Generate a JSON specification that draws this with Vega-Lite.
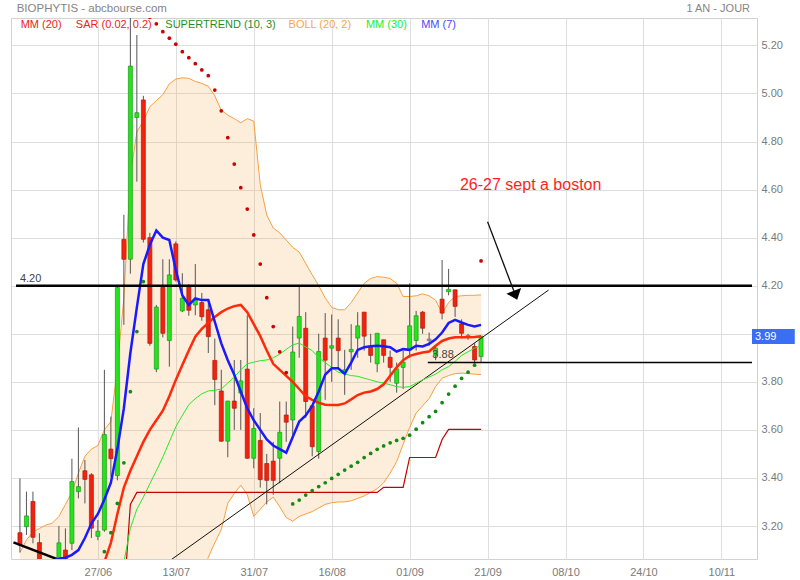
{
  "$schema": "https://vega.github.io/schema/vega-lite/v6.json",
  "width": 746,
  "height": 541,
  "autosize": {"type": "none"},
  "padding": {"left": 11, "top": 18, "right": 43, "bottom": 21},
  "background": "white",
  "config": {
    "view": {"stroke": "#d2d2d2", "strokeWidth": 1},
    "font": "Liberation Sans",
    "axis": {"grid": true, "gridColor": "#dedede", "gridWidth": 1, "ticks": false, "domain": false, "labelColor": "#7a7a7a", "labelFontSize": 11, "labelFont": "Liberation Sans"}
  },
  "datasets": {
    "d": [
      {"i": -12, "o": 3.172, "h": 3.398, "l": 3.09, "c": 3.121, "dir": "down", "mm7": null, "mm20": null, "mm30": null, "bbu": 3.09, "bbl": 2.5, "sar": null, "sc": null, "st": null},
      {"i": -11, "o": 3.197, "h": 3.343, "l": 3.163, "c": 3.242, "dir": "up", "mm7": null, "mm20": null, "mm30": null, "bbu": 3.142, "bbl": 2.5, "sar": null, "sc": null, "st": null},
      {"i": -10, "o": 3.302, "h": 3.343, "l": 3.128, "c": 3.153, "dir": "down", "mm7": null, "mm20": null, "mm30": null, "bbu": 3.175, "bbl": 2.5, "sar": null, "sc": null, "st": null},
      {"i": -9, "o": 3.131, "h": 3.17, "l": 3.03, "c": 3.058, "dir": "down", "mm7": null, "mm20": null, "mm30": null, "bbu": 3.19, "bbl": 2.5, "sar": null, "sc": null, "st": null},
      {"i": -8, "o": 3.04, "h": 3.05, "l": 2.95, "c": 2.99, "dir": "down", "mm7": null, "mm20": null, "mm30": null, "bbu": 3.204, "bbl": 2.5, "sar": null, "sc": null, "st": null},
      {"i": -7, "o": 3.0, "h": 3.05, "l": 2.95, "c": 3.03, "dir": "up", "mm7": 3.055, "mm20": null, "mm30": null, "bbu": 3.212, "bbl": 2.5, "sar": null, "sc": null, "st": null},
      {"i": -6, "o": 3.06, "h": 3.2, "l": 3.05, "c": 3.13, "dir": "up", "mm7": 3.064, "mm20": null, "mm30": null, "bbu": 3.24, "bbl": 2.5, "sar": null, "sc": null, "st": null},
      {"i": -5, "o": 3.1, "h": 3.19, "l": 3.04, "c": 3.06, "dir": "down", "mm7": 3.068, "mm20": null, "mm30": null, "bbu": 3.29, "bbl": 2.5, "sar": null, "sc": null, "st": null},
      {"i": -4, "o": 3.128, "h": 3.48, "l": 3.1, "c": 3.385, "dir": "up", "mm7": 3.08, "mm20": null, "mm30": null, "bbu": 3.34, "bbl": 2.5, "sar": null, "sc": null, "st": null},
      {"i": -3, "o": 3.343, "h": 3.61, "l": 3.315, "c": 3.364, "dir": "up", "mm7": 3.1, "mm20": null, "mm30": null, "bbu": 3.42, "bbl": 2.5, "sar": null, "sc": null, "st": null},
      {"i": -2, "o": 3.43, "h": 3.475, "l": 3.294, "c": 3.394, "dir": "down", "mm7": 3.15, "mm20": null, "mm30": null, "bbu": 3.49, "bbl": 2.5, "sar": null, "sc": null, "st": null},
      {"i": -1, "o": 3.413, "h": 3.42, "l": 3.15, "c": 3.191, "dir": "down", "mm7": 3.21, "mm20": null, "mm30": null, "bbu": 3.52, "bbl": 2.5, "sar": null, "sc": null, "st": null},
      {"i": 0, "o": 3.157, "h": 3.225, "l": 3.141, "c": 3.178, "dir": "up", "mm7": 3.25, "mm20": 2.93, "mm30": null, "bbu": 3.535, "bbl": 2.5, "sar": null, "sc": null, "st": null},
      {"i": 1, "o": 3.183, "h": 3.85, "l": 3.176, "c": 3.581, "dir": "up", "mm7": 3.31, "mm20": 3.05, "mm30": null, "bbu": 3.6, "bbl": 2.5, "sar": 3.093, "sc": "g", "st": null},
      {"i": 2, "o": 3.52, "h": 3.655, "l": 3.405, "c": 3.48, "dir": "down", "mm7": 3.38, "mm20": 3.13, "mm30": null, "bbu": 3.635, "bbl": 2.5, "sar": 3.172, "sc": "g", "st": null},
      {"i": 3, "o": 3.41, "h": 4.2, "l": 3.39, "c": 4.193, "dir": "up", "mm7": 3.52, "mm20": 3.25, "mm30": 2.9, "bbu": 3.86, "bbl": 2.5, "sar": 3.294, "sc": "g", "st": null},
      {"i": 4, "o": 4.393, "h": 4.495, "l": 4.037, "c": 4.31, "dir": "down", "mm7": 3.69, "mm20": 3.36, "mm30": 3.05, "bbu": 4.15, "bbl": 2.5, "sar": 3.463, "sc": "g", "st": 2.9},
      {"i": 5, "o": 4.31, "h": 5.33, "l": 4.25, "c": 5.114, "dir": "up", "mm7": 3.92, "mm20": 3.43, "mm30": 3.19, "bbu": 4.66, "bbl": 2.5, "sar": 3.759, "sc": "g", "st": 3.29},
      {"i": 6, "o": 4.9, "h": 5.243, "l": 4.633, "c": 4.92, "dir": "up", "mm7": 4.11, "mm20": 3.49, "mm30": 3.27, "bbu": 4.84, "bbl": 2.5, "sar": 4.009, "sc": "g", "st": 3.34},
      {"i": 7, "o": 4.973, "h": 4.99, "l": 4.38, "c": 4.393, "dir": "down", "mm7": 4.29, "mm20": 3.55, "mm30": 3.32, "bbu": 4.885, "bbl": 2.5, "sar": 4.217, "sc": "g", "st": 3.34},
      {"i": 8, "o": 4.4, "h": 4.42, "l": 3.95, "c": 3.96, "dir": "down", "mm7": 4.37, "mm20": 3.6, "mm30": 3.376, "bbu": 4.945, "bbl": 2.5, "sar": 5.317, "sc": "r", "st": 3.34},
      {"i": 9, "o": 3.853, "h": 4.12, "l": 3.84, "c": 4.111, "dir": "up", "mm7": 4.43, "mm20": 3.64, "mm30": 3.43, "bbu": 4.97, "bbl": 2.5, "sar": 5.29, "sc": "r", "st": 3.34},
      {"i": 10, "o": 4.193, "h": 4.31, "l": 3.985, "c": 4.002, "dir": "down", "mm7": 4.4, "mm20": 3.68, "mm30": 3.487, "bbu": 4.995, "bbl": 2.5, "sar": 5.257, "sc": "r", "st": 3.34},
      {"i": 11, "o": 3.972, "h": 4.31, "l": 3.863, "c": 4.245, "dir": "up", "mm7": 4.39, "mm20": 3.74, "mm30": 3.55, "bbu": 5.04, "bbl": 2.5, "sar": 5.23, "sc": "r", "st": 3.34},
      {"i": 12, "o": 4.374, "h": 4.384, "l": 4.217, "c": 4.224, "dir": "down", "mm7": 4.265, "mm20": 3.808, "mm30": 3.613, "bbu": 5.06, "bbl": 2.5, "sar": 5.205, "sc": "r", "st": 3.34},
      {"i": 13, "o": 4.095, "h": 4.252, "l": 4.09, "c": 4.148, "dir": "up", "mm7": 4.16, "mm20": 3.87, "mm30": 3.66, "bbu": 5.065, "bbl": 2.5, "sar": 5.174, "sc": "r", "st": 3.34},
      {"i": 14, "o": 4.196, "h": 4.207, "l": 4.075, "c": 4.098, "dir": "down", "mm7": 4.12, "mm20": 3.93, "mm30": 3.705, "bbu": 5.063, "bbl": 2.5, "sar": 5.149, "sc": "r", "st": 3.34},
      {"i": 15, "o": 4.12, "h": 4.29, "l": 4.077, "c": 4.14, "dir": "up", "mm7": 4.147, "mm20": 3.988, "mm30": 3.73, "bbu": 5.05, "bbl": 2.9, "sar": 5.124, "sc": "r", "st": 3.34},
      {"i": 16, "o": 4.13, "h": 4.17, "l": 4.054, "c": 4.071, "dir": "down", "mm7": 4.14, "mm20": 4.02, "mm30": 3.75, "bbu": 5.042, "bbl": 2.98, "sar": 5.098, "sc": "r", "st": 3.34},
      {"i": 17, "o": 4.1, "h": 4.14, "l": 3.92, "c": 3.988, "dir": "down", "mm7": 4.14, "mm20": 4.045, "mm30": 3.762, "bbu": 5.03, "bbl": 3.07, "sar": 5.074, "sc": "r", "st": 3.34},
      {"i": 18, "o": 3.889, "h": 3.98, "l": 3.703, "c": 3.81, "dir": "down", "mm7": 4.05, "mm20": 4.07, "mm30": 3.765, "bbu": 4.99, "bbl": 3.13, "sar": 5.014, "sc": "r", "st": 3.34},
      {"i": 19, "o": 3.762, "h": 3.85, "l": 3.55, "c": 3.553, "dir": "down", "mm7": 3.96, "mm20": 4.09, "mm30": 3.77, "bbu": 4.93, "bbl": 3.185, "sar": 4.928, "sc": "r", "st": 3.34},
      {"i": 20, "o": 3.553, "h": 3.72, "l": 3.486, "c": 3.72, "dir": "up", "mm7": 3.89, "mm20": 4.105, "mm30": 3.795, "bbu": 4.91, "bbl": 3.295, "sar": 4.816, "sc": "r", "st": 3.34},
      {"i": 21, "o": 3.72, "h": 3.891, "l": 3.6, "c": 3.69, "dir": "down", "mm7": 3.83, "mm20": 4.115, "mm30": 3.82, "bbu": 4.895, "bbl": 3.335, "sar": 4.706, "sc": "r", "st": 3.34},
      {"i": 22, "o": 3.753, "h": 3.891, "l": 3.6, "c": 3.804, "dir": "up", "mm7": 3.76, "mm20": 4.12, "mm30": 3.85, "bbu": 4.878, "bbl": 3.37, "sar": 4.608, "sc": "r", "st": 3.34},
      {"i": 23, "o": 3.853, "h": 4.077, "l": 3.48, "c": 3.482, "dir": "down", "mm7": 3.69, "mm20": 4.09, "mm30": 3.875, "bbu": 4.895, "bbl": 3.33, "sar": 4.519, "sc": "r", "st": 3.34},
      {"i": 24, "o": 3.482, "h": 3.69, "l": 3.44, "c": 3.606, "dir": "up", "mm7": 3.64, "mm20": 4.04, "mm30": 3.882, "bbu": 4.885, "bbl": 3.24, "sar": 4.411, "sc": "r", "st": 3.34},
      {"i": 25, "o": 3.556, "h": 3.67, "l": 3.36, "c": 3.393, "dir": "down", "mm7": 3.6, "mm20": 3.99, "mm30": 3.888, "bbu": 4.62, "bbl": 3.27, "sar": 4.29, "sc": "r", "st": 3.34},
      {"i": 26, "o": 3.46, "h": 3.5, "l": 3.29, "c": 3.39, "dir": "down", "mm7": 3.56, "mm20": 3.93, "mm30": 3.891, "bbu": 4.494, "bbl": 3.3, "sar": 4.15, "sc": "r", "st": 3.34},
      {"i": 27, "o": 3.47, "h": 3.55, "l": 3.33, "c": 3.39, "dir": "down", "mm7": 3.535, "mm20": 3.875, "mm30": 3.9, "bbu": 4.44, "bbl": 3.32, "sar": 4.03, "sc": "r", "st": 3.34},
      {"i": 28, "o": 3.482, "h": 3.718, "l": 3.378, "c": 3.59, "dir": "up", "mm7": 3.52, "mm20": 3.85, "mm30": 3.915, "bbu": 4.42, "bbl": 3.28, "sar": 3.925, "sc": "r", "st": 3.34},
      {"i": 29, "o": 3.662, "h": 3.718, "l": 3.55, "c": 3.632, "dir": "down", "mm7": 3.505, "mm20": 3.825, "mm30": 3.935, "bbu": 4.39, "bbl": 3.235, "sar": 3.838, "sc": "r", "st": 3.34},
      {"i": 30, "o": 3.641, "h": 4.03, "l": 3.58, "c": 3.924, "dir": "up", "mm7": 3.57, "mm20": 3.8, "mm30": 3.954, "bbu": 4.36, "bbl": 3.22, "sar": 3.292, "sc": "g", "st": 3.34},
      {"i": 31, "o": 3.982, "h": 4.196, "l": 3.9, "c": 4.072, "dir": "up", "mm7": 3.635, "mm20": 3.77, "mm30": 3.961, "bbu": 4.34, "bbl": 3.24, "sar": 3.308, "sc": "g", "st": 3.34},
      {"i": 32, "o": 4.023, "h": 4.09, "l": 3.65, "c": 3.718, "dir": "down", "mm7": 3.66, "mm20": 3.74, "mm30": 3.945, "bbu": 4.293, "bbl": 3.25, "sar": 3.329, "sc": "g", "st": 3.34},
      {"i": 33, "o": 3.7, "h": 3.7, "l": 3.49, "c": 3.53, "dir": "down", "mm7": 3.7, "mm20": 3.725, "mm30": 3.93, "bbu": 4.245, "bbl": 3.26, "sar": 3.347, "sc": "g", "st": 3.34},
      {"i": 34, "o": 3.51, "h": 4.0, "l": 3.48, "c": 3.926, "dir": "up", "mm7": 3.76, "mm20": 3.713, "mm30": 3.9, "bbu": 4.2, "bbl": 3.275, "sar": 3.364, "sc": "g", "st": 3.34},
      {"i": 35, "o": 3.982, "h": 4.086, "l": 3.725, "c": 3.89, "dir": "down", "mm7": 3.83, "mm20": 3.705, "mm30": 3.88, "bbu": 4.15, "bbl": 3.29, "sar": 3.38, "sc": "g", "st": 3.34},
      {"i": 36, "o": 3.94, "h": 4.08, "l": 3.8, "c": 3.95, "dir": "up", "mm7": 3.856, "mm20": 3.704, "mm30": 3.86, "bbu": 4.11, "bbl": 3.297, "sar": 3.398, "sc": "g", "st": 3.34},
      {"i": 37, "o": 3.982, "h": 4.06, "l": 3.85, "c": 3.93, "dir": "down", "mm7": 3.856, "mm20": 3.704, "mm30": 3.84, "bbu": 4.1, "bbl": 3.3, "sar": 3.415, "sc": "g", "st": 3.34},
      {"i": 38, "o": 3.84, "h": 3.933, "l": 3.746, "c": 3.85, "dir": "up", "mm7": 3.833, "mm20": 3.71, "mm30": 3.833, "bbu": 4.1, "bbl": 3.3, "sar": 3.433, "sc": "g", "st": 3.34},
      {"i": 39, "o": 3.925, "h": 4.04, "l": 3.85, "c": 3.935, "dir": "up", "mm7": 3.88, "mm20": 3.727, "mm30": 3.826, "bbu": 4.13, "bbl": 3.305, "sar": 3.449, "sc": "g", "st": 3.34},
      {"i": 40, "o": 3.982, "h": 4.09, "l": 3.9, "c": 4.033, "dir": "up", "mm7": 3.933, "mm20": 3.745, "mm30": 3.823, "bbu": 4.17, "bbl": 3.315, "sar": 3.465, "sc": "g", "st": 3.34},
      {"i": 41, "o": 4.09, "h": 4.09, "l": 3.93, "c": 3.99, "dir": "down", "mm7": 3.944, "mm20": 3.755, "mm30": 3.815, "bbu": 4.21, "bbl": 3.325, "sar": 3.485, "sc": "g", "st": 3.34},
      {"i": 42, "o": 3.947, "h": 4.0, "l": 3.88, "c": 3.91, "dir": "down", "mm7": 3.948, "mm20": 3.76, "mm30": 3.808, "bbu": 4.23, "bbl": 3.34, "sar": 3.502, "sc": "g", "st": 3.34},
      {"i": 43, "o": 3.875, "h": 4.002, "l": 3.84, "c": 4.002, "dir": "up", "mm7": 3.95, "mm20": 3.77, "mm30": 3.8, "bbu": 4.238, "bbl": 3.355, "sar": 3.519, "sc": "g", "st": 3.34},
      {"i": 44, "o": 3.975, "h": 3.975, "l": 3.88, "c": 3.91, "dir": "down", "mm7": 3.948, "mm20": 3.79, "mm30": 3.795, "bbu": 4.235, "bbl": 3.38, "sar": 3.533, "sc": "g", "st": 3.361},
      {"i": 45, "o": 3.902, "h": 3.93, "l": 3.8, "c": 3.86, "dir": "down", "mm7": 3.944, "mm20": 3.825, "mm30": 3.788, "bbu": 4.23, "bbl": 3.42, "sar": 3.546, "sc": "g", "st": 3.361},
      {"i": 46, "o": 3.794, "h": 3.88, "l": 3.755, "c": 3.854, "dir": "up", "mm7": 3.926, "mm20": 3.86, "mm30": 3.78, "bbu": 4.21, "bbl": 3.468, "sar": 3.556, "sc": "g", "st": 3.361},
      {"i": 47, "o": 3.86, "h": 3.93, "l": 3.77, "c": 3.882, "dir": "up", "mm7": 3.936, "mm20": 3.89, "mm30": 3.777, "bbu": 4.155, "bbl": 3.54, "sar": 3.565, "sc": "g", "st": 3.361},
      {"i": 48, "o": 3.933, "h": 4.21, "l": 3.9, "c": 4.033, "dir": "up", "mm7": 3.933, "mm20": 3.908, "mm30": 3.78, "bbu": 4.155, "bbl": 3.61, "sar": 3.578, "sc": "g", "st": 3.485},
      {"i": 49, "o": 3.972, "h": 4.095, "l": 3.93, "c": 4.075, "dir": "up", "mm7": 3.95, "mm20": 3.916, "mm30": 3.794, "bbu": 4.158, "bbl": 3.67, "sar": 3.603, "sc": "g", "st": 3.485},
      {"i": 50, "o": 4.09, "h": 4.095, "l": 4.0, "c": 4.023, "dir": "down", "mm7": 3.947, "mm20": 3.922, "mm30": 3.808, "bbu": 4.166, "bbl": 3.7, "sar": 3.63, "sc": "g", "st": 3.485},
      {"i": 51, "o": 3.978, "h": 4.005, "l": 3.95, "c": 3.972, "dir": "flat", "mm7": 3.958, "mm20": 3.926, "mm30": 3.82, "bbu": 4.158, "bbl": 3.73, "sar": 3.655, "sc": "g", "st": 3.485},
      {"i": 52, "o": 3.91, "h": 3.95, "l": 3.89, "c": 3.94, "dir": "up", "mm7": 3.977, "mm20": 3.95, "mm30": 3.832, "bbu": 4.14, "bbl": 3.78, "sar": 3.677, "sc": "g", "st": 3.485},
      {"i": 53, "o": 4.144, "h": 4.307, "l": 4.06, "c": 4.086, "dir": "down", "mm7": 4.005, "mm20": 3.97, "mm30": 3.85, "bbu": 4.085, "bbl": 3.815, "sar": 3.713, "sc": "g", "st": 3.56},
      {"i": 54, "o": 4.175, "h": 4.27, "l": 4.16, "c": 4.185, "dir": "up", "mm7": 4.045, "mm20": 3.98, "mm30": 3.863, "bbu": 4.13, "bbl": 3.826, "sar": 3.749, "sc": "g", "st": 3.602},
      {"i": 55, "o": 4.183, "h": 4.183, "l": 4.07, "c": 4.114, "dir": "down", "mm7": 4.058, "mm20": 3.985, "mm30": 3.885, "bbu": 4.155, "bbl": 3.834, "sar": 3.782, "sc": "g", "st": 3.602},
      {"i": 56, "o": 4.041, "h": 4.06, "l": 3.98, "c": 4.002, "dir": "down", "mm7": 4.047, "mm20": 3.985, "mm30": 3.91, "bbu": 4.158, "bbl": 3.836, "sar": 3.814, "sc": "g", "st": 3.602},
      {"i": 57, "o": 3.993, "h": 4.0, "l": 3.975, "c": 3.99, "dir": "flat", "mm7": 4.037, "mm20": 3.985, "mm30": 3.925, "bbu": 4.16, "bbl": 3.834, "sar": 3.84, "sc": "g", "st": 3.602},
      {"i": 58, "o": 3.947, "h": 3.96, "l": 3.87, "c": 3.891, "dir": "down", "mm7": 4.03, "mm20": 3.987, "mm30": 3.94, "bbu": 4.16, "bbl": 3.832, "sar": 3.869, "sc": "g", "st": 3.602},
      {"i": 59, "o": 3.905, "h": 3.99, "l": 3.88, "c": 3.99, "dir": "up", "mm7": 4.037, "mm20": 3.99, "mm30": 3.95, "bbu": 4.162, "bbl": 3.83, "sar": 4.303, "sc": "r", "st": 3.602}
    ]
  },
  "data": {"name": "d"},
  "layer": [
    {
      "mark": {"type": "area", "color": "#f7a54a", "opacity": 0.2, "clip": true},
      "encoding": {
        "x": {"field": "i", "type": "quantitative", "title": null, "scale": {"domain": [-12.608, 100.714], "nice": false, "zero": false},
              "axis": {"orient": "bottom", "values": [0, 12, 24, 36, 48, 60, 72, 84, 96], "labelExpr": "['27/06','13/07','31/07','16/08','01/09','21/09','08/10','24/10','10/11'][round(datum.value/12)]", "labelPadding": 7, "labelFlush": false}},
        "y": {"field": "bbl", "type": "quantitative", "title": null, "scale": {"domain": [3.0627, 5.314], "nice": false, "zero": false},
              "axis": {"orient": "right", "values": [3.2, 3.4, 3.6, 3.8, 4.0, 4.2, 4.4, 4.6, 4.8, 5.0, 5.2], "format": ".2f", "labelPadding": 4, "labelFlush": false}},
        "y2": {"field": "bbu"}
      }
    },
    {
      "mark": {"type": "line", "color": "#f7a040", "strokeWidth": 1, "clip": true},
      "encoding": {"x": {"field": "i", "type": "quantitative", "title": null}, "y": {"field": "bbu", "type": "quantitative", "title": null}}
    },
    {
      "mark": {"type": "line", "color": "#f7a040", "strokeWidth": 1, "clip": true},
      "encoding": {"x": {"field": "i", "type": "quantitative", "title": null}, "y": {"field": "bbl", "type": "quantitative", "title": null}}
    },
    {
      "transform": [{"filter": "datum.st != null"}],
      "mark": {"type": "line", "color": "#c40000", "strokeWidth": 1.2, "clip": true},
      "encoding": {"x": {"field": "i", "type": "quantitative", "title": null}, "y": {"field": "st", "type": "quantitative", "title": null}}
    },
    {
      "mark": {"type": "rule", "color": "#555555", "strokeWidth": 1, "clip": true},
      "encoding": {"x": {"field": "i", "type": "quantitative", "title": null}, "y": {"field": "l", "type": "quantitative", "title": null}, "y2": {"field": "h"}}
    },
    {
      "mark": {"type": "bar", "width": 4, "strokeWidth": 0.7, "clip": true},
      "encoding": {
        "x": {"field": "i", "type": "quantitative", "title": null},
        "y": {"field": "o", "type": "quantitative", "title": null},
        "y2": {"field": "c"},
        "fill": {"field": "dir", "type": "nominal", "scale": {"domain": ["up", "down", "flat"], "range": ["#26e41c", "#f2220f", "#9a9a9a"]}, "legend": null},
        "stroke": {"field": "dir", "type": "nominal", "scale": {"domain": ["up", "down", "flat"], "range": ["#149a14", "#b01808", "#777777"]}, "legend": null}
      }
    },
    {
      "data": {"values": [{"i": 10, "p": 3.035}, {"i": 69.4, "p": 4.182}]},
      "mark": {"type": "line", "color": "#111111", "strokeWidth": 1, "clip": true},
      "encoding": {"x": {"field": "i", "type": "quantitative", "title": null}, "y": {"field": "p", "type": "quantitative", "title": null}}
    },
    {
      "data": {"values": [{"i": -13, "p": 3.132}, {"i": -5, "p": 3.049}]},
      "mark": {"type": "line", "color": "#000000", "strokeWidth": 2.5, "clip": true},
      "encoding": {"x": {"field": "i", "type": "quantitative", "title": null}, "y": {"field": "p", "type": "quantitative", "title": null}}
    },
    {
      "transform": [{"filter": "datum.mm30 != null"}],
      "mark": {"type": "line", "color": "#2ae82a", "strokeWidth": 1, "clip": true},
      "encoding": {"x": {"field": "i", "type": "quantitative", "title": null}, "y": {"field": "mm30", "type": "quantitative", "title": null}}
    },
    {
      "transform": [{"filter": "datum.mm20 != null"}],
      "mark": {"type": "line", "color": "#ff2a0a", "strokeWidth": 2.5, "clip": true},
      "encoding": {"x": {"field": "i", "type": "quantitative", "title": null}, "y": {"field": "mm20", "type": "quantitative", "title": null}}
    },
    {
      "transform": [{"filter": "datum.mm7 != null"}],
      "mark": {"type": "line", "color": "#1a1aff", "strokeWidth": 2.5, "clip": true},
      "encoding": {"x": {"field": "i", "type": "quantitative", "title": null}, "y": {"field": "mm7", "type": "quantitative", "title": null}}
    },
    {
      "data": {"values": [{"p": 4.2, "a": -12.608, "b": 100.714}]},
      "mark": {"type": "rule", "color": "#000000", "strokeWidth": 2.5},
      "encoding": {"x": {"field": "a", "type": "quantitative", "title": null}, "x2": {"field": "b"}, "y": {"field": "p", "type": "quantitative", "title": null}}
    },
    {
      "data": {"values": [{"p": 3.88, "a": 50.8, "b": 100.714}]},
      "mark": {"type": "rule", "color": "#000000", "strokeWidth": 1.5},
      "encoding": {"x": {"field": "a", "type": "quantitative", "title": null}, "x2": {"field": "b"}, "y": {"field": "p", "type": "quantitative", "title": null}}
    },
    {
      "transform": [{"filter": "datum.sc == 'r'"}],
      "mark": {"type": "point", "filled": true, "size": 14, "opacity": 1, "color": "#cc0000", "clip": true},
      "encoding": {"x": {"field": "i", "type": "quantitative", "title": null}, "y": {"field": "sar", "type": "quantitative", "title": null}}
    },
    {
      "transform": [{"filter": "datum.sc == 'g'"}],
      "mark": {"type": "point", "filled": true, "size": 14, "opacity": 1, "color": "#138a13", "clip": true},
      "encoding": {"x": {"field": "i", "type": "quantitative", "title": null}, "y": {"field": "sar", "type": "quantitative", "title": null}}
    },
    {
      "data": {"values": [{"i": 60.0, "p": 4.466, "i2": 64.3, "p2": 4.16}]},
      "mark": {"type": "rule", "color": "#111111", "strokeWidth": 1.3},
      "encoding": {"x": {"field": "i", "type": "quantitative", "title": null}, "y": {"field": "p", "type": "quantitative", "title": null}, "x2": {"field": "i2"}, "y2": {"field": "p2"}}
    },
    {
      "data": {"values": [{"i": 64.3, "p": 4.16}]},
      "mark": {"type": "point", "shape": "M0,-0.55L0.9,0.55L-0.9,0.55Z", "filled": true, "color": "#000000", "opacity": 1, "size": 300, "angle": 159},
      "encoding": {"x": {"field": "i", "type": "quantitative", "title": null}, "y": {"field": "p", "type": "quantitative", "title": null}}
    },
    {
      "data": {"values": [{"i": -12.5, "p": 5.3515, "t": "BIOPHYTIS - abcbourse.com"}]},
      "mark": {"type": "text", "align": "left", "baseline": "middle", "fontSize": 11.5, "color": "#858585"},
      "encoding": {"x": {"field": "i", "type": "quantitative", "title": null}, "y": {"field": "p", "type": "quantitative", "title": null}, "text": {"field": "t"}}
    },
    {
      "data": {"values": [{"i": 100.41, "p": 5.3515, "t": "1 AN - JOUR"}]},
      "mark": {"type": "text", "align": "right", "baseline": "middle", "fontSize": 11, "color": "#858585"},
      "encoding": {"x": {"field": "i", "type": "quantitative", "title": null}, "y": {"field": "p", "type": "quantitative", "title": null}, "text": {"field": "t"}}
    },
    {
      "data": {"values": [
        {"i": -11.89, "p": 5.285, "t": "MM (20)"},
        {"i": -3.39, "p": 5.285, "t": "SAR (0.02, 0.2)"},
        {"i": 10.38, "p": 5.285, "t": "SUPERTREND (10, 3)"},
        {"i": 29.36, "p": 5.285, "t": "BOLL (20, 2)"},
        {"i": 41.27, "p": 5.285, "t": "MM (30)"},
        {"i": 49.78, "p": 5.285, "t": "MM (7)"}
      ]},
      "mark": {"type": "text", "align": "left", "baseline": "middle", "fontSize": 11},
      "encoding": {
        "x": {"field": "i", "type": "quantitative", "title": null},
        "y": {"field": "p", "type": "quantitative", "title": null},
        "text": {"field": "t"},
        "color": {"field": "t", "type": "nominal", "scale": {"domain": ["MM (20)", "SAR (0.02, 0.2)", "SUPERTREND (10, 3)", "BOLL (20, 2)", "MM (30)", "MM (7)"], "range": ["#ee2222", "#ee2222", "#1f8f1f", "#f7a54a", "#22ee22", "#4a4aff"]}, "legend": null}
      }
    },
    {
      "data": {"values": [{"i": -12.0, "p": 4.228, "t": "4.20"}, {"i": 51.5, "p": 3.912, "t": "3.88"}]},
      "mark": {"type": "text", "align": "left", "baseline": "middle", "fontSize": 11, "color": "#444444"},
      "encoding": {"x": {"field": "i", "type": "quantitative", "title": null}, "y": {"field": "p", "type": "quantitative", "title": null}, "text": {"field": "t"}}
    },
    {
      "data": {"values": [{"i": 55.75, "p": 4.619, "t": "26-27 sept a boston"}]},
      "mark": {"type": "text", "align": "left", "baseline": "middle", "fontSize": 16, "color": "#ff1e1e"},
      "encoding": {"x": {"field": "i", "type": "quantitative", "title": null}, "y": {"field": "p", "type": "quantitative", "title": null}, "text": {"field": "t"}}
    },
    {
      "data": {"values": [{"a": 100.714, "b": 107.3, "lo": 3.957, "hi": 4.02}]},
      "mark": {"type": "rect", "color": "#3a6ff5", "clip": false},
      "encoding": {"x": {"field": "a", "type": "quantitative", "title": null}, "x2": {"field": "b"}, "y": {"field": "lo", "type": "quantitative", "title": null}, "y2": {"field": "hi"}}
    },
    {
      "data": {"values": [{"i": 101.17, "p": 3.988, "t": "3.99"}]},
      "mark": {"type": "text", "align": "left", "baseline": "middle", "fontSize": 11, "color": "#ffffff"},
      "encoding": {"x": {"field": "i", "type": "quantitative", "title": null}, "y": {"field": "p", "type": "quantitative", "title": null}, "text": {"field": "t"}}
    }
  ]
}
